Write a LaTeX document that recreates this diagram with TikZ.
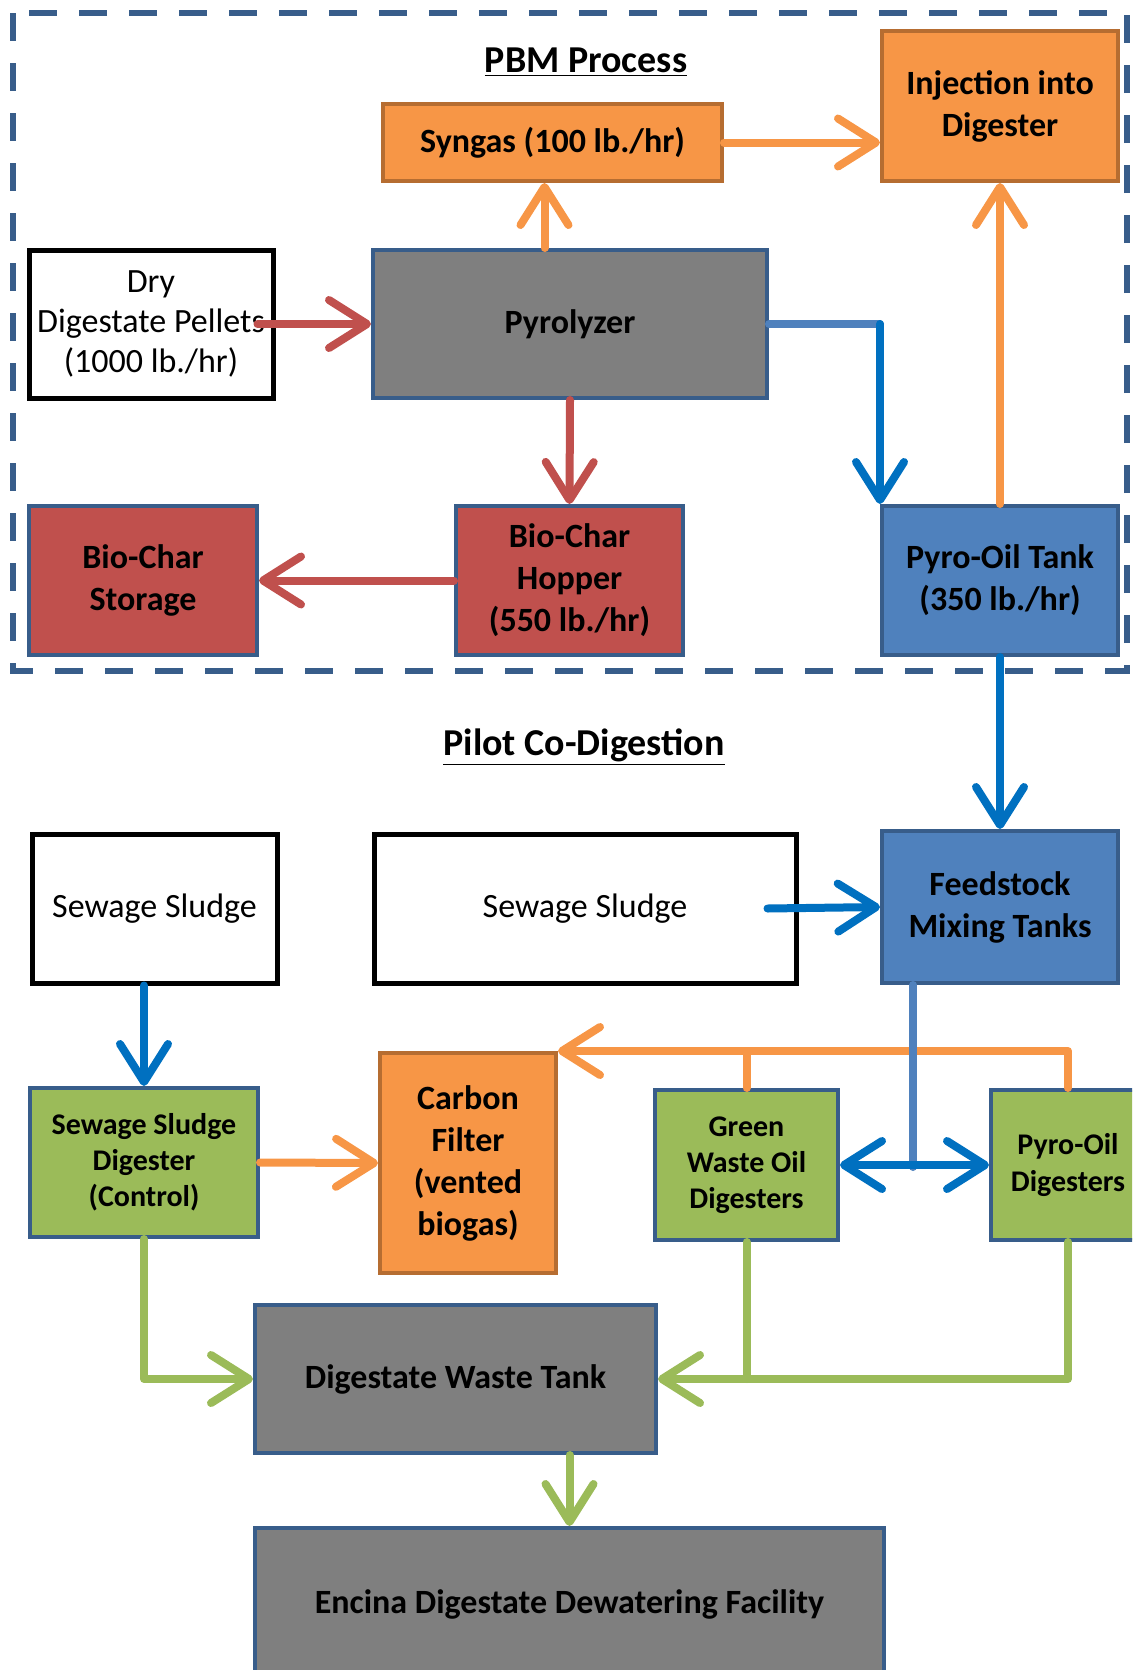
\documentclass[tikz,border=0pt]{standalone}
\usepackage{fontspec}
\setmainfont{Carlito}
\usetikzlibrary{arrows.meta}

\definecolor{pbmorange}{HTML}{F79646}
\definecolor{pbmorangedark}{HTML}{B66D31}
\definecolor{pbmred}{HTML}{C0504D}
\definecolor{pbmgray}{HTML}{7F7F7F}
\definecolor{pbmblue}{HTML}{4F81BD}
\definecolor{pbmbluedark}{HTML}{385D8A}
\definecolor{pbmgreen}{HTML}{9BBB59}
\definecolor{pipeblue}{HTML}{0070C0}

\newcommand{\heading}[1]{{\fontsize{19}{23}\selectfont\bfseries\underline{#1}}}

\begin{document}
\begin{tikzpicture}[x=0.5pt, y=-0.5pt, inner sep=0pt,
  >={Straight Barb[length=19pt, width=24pt, round]},
  wh/.style 2 args={minimum width=#1*0.5pt, minimum height=#2*0.5pt},
  pbmbox/.style={draw=pbmbluedark, line width=2pt, align=center,
    font=\fontsize{17}{21}\selectfont\bfseries},
  orangebox/.style={pbmbox, fill=pbmorange, draw=pbmorangedark},
  redbox/.style={pbmbox, fill=pbmred},
  graybox/.style={pbmbox, fill=pbmgray},
  bluebox/.style={pbmbox, fill=pbmblue},
  greenbox/.style={pbmbox, fill=pbmgreen, font=\fontsize{15}{18}\selectfont\bfseries},
  feedbox/.style={pbmbox, draw=black, line width=2.5pt, fill=white,
    font=\fontsize{17}{20}\selectfont},
  pipe/.style={line width=4pt, line cap=round, line join=round},
%  pipe/.style={line width=3pt},
  ]
  \useasboundingbox (0,0) rectangle (1132,1670);
  \clip (0,0) rectangle (1132,1670);

  % PBM process
  \draw[pbmbluedark, line width=3pt, dash pattern=on 14pt off 11pt] (13,13) rectangle (1127,671);
  \node (pbm) at (586,62) {\heading{PBM Process}};
  \node[orangebox, wh={339}{77}] (syngas) at (552.5,142.5) {Syngas (100 lb./hr)};
  \node[orangebox, wh={236}{150}] (inject) at (1000,106) {Injection into\\Digester};
  \node[feedbox, wh={244}{148}] (dry) at (151,324) {Dry\\Digestate Pellets\\(1000 lb./hr)};
  \node[graybox, wh={394}{148}] (pyro) at (570,324) {Pyrolyzer};
  \node[redbox, wh={228}{149}] (storage) at (143,580.5) {Bio-Char\\Storage};
  \node[redbox, wh={227}{149}] (hopper) at (569.5,580.5) {Bio-Char\\Hopper\\(550 lb./hr)};
  \node[bluebox, wh={236}{149}] (oiltank) at (1000,580.5) {Pyro-Oil Tank\\(350 lb./hr)};

  % pilot co-digestion
  \node (pilot) at (584,747) {\heading{Pilot Co-Digestion}};
  \node[feedbox, wh={245}{149}] (sludgeA) at (154.5,908.5) {Sewage Sludge};
  \node[feedbox, wh={422}{149}] (sludgeB) at (585,908.5) {Sewage Sludge};
  \node[bluebox, wh={236}{152}] (mixing) at (1000,907) {Feedstock\\Mixing Tanks};
  \node[greenbox, wh={228}{149}] (control) at (144,1162.5) {Sewage Sludge\\Digester\\(Control)};
  \node[orangebox, wh={176}{220}] (filter) at (468,1163) {Carbon\\Filter\\(vented\\biogas)};
  \node[greenbox, wh={183}{150}] (greenoil) at (746.5,1165) {Green\\Waste Oil\\Digesters};
  \node[greenbox, wh={154}{150}] (pyrodig) at (1068,1165) {Pyro-Oil\\Digesters};
  \node[graybox, wh={401}{148}] (waste) at (455.5,1379) {Digestate Waste Tank};
  \node[graybox, wh={629}{152}] (encina) at (569.5,1604) {Encina Digestate Dewatering Facility};

  \coordinate (elbow) at (oiltank.north west |- pyro.east);
  \coordinate (split) at (913,1167);

  % flows
  \draw[pipe, pbmred, ->] ([xshift=-9pt]dry.east) -- (pyro.west);
  \draw[pipe, pbmorange, ->] ([xshift=-4pt]syngas.south |- pyro.north) -- ([xshift=-4pt]syngas.south);
  \draw[pipe, pbmorange, ->] (syngas.east) -- (syngas.east -| inject.west);
  \draw[pipe, pbmblue] (pyro.east) -- (elbow);
  \draw[pipe, pipeblue, ->] (elbow) -- (oiltank.north west);
  \draw[pipe, pbmred, ->] (pyro.south) -- (hopper.north);
  \draw[pipe, pbmred, ->] (hopper.west) -- (storage.east);
  \draw[pipe, pbmorange, ->] (oiltank.north) -- (inject.south);
  \draw[pipe, pipeblue, ->] (oiltank.south) -- (mixing.north);
  \draw[pipe, pipeblue, ->] ([xshift=-15.5pt]sludgeB.east) -- (mixing.west);
  \draw[pipe, pipeblue, ->] (control.north |- sludgeA.south) -- (control.north);
  \draw[pipe, pbmorange, ->] (control.east) -- (filter.west);
  \draw[pipe, pbmorange, ->] (pyrodig.north) |- (filter.north east);
  \draw[pipe, pbmorange] (greenoil.north) -- (greenoil.north |- filter.north east);
  \draw[pipe, pbmblue] (mixing.south -| split) -- (split);
  \draw[pipe, pipeblue, <->] (greenoil.east) -- (pyrodig.west);
  \draw[pipe, pbmgreen, ->] (control.south) |- (waste.west);
  \draw[pipe, pbmgreen, ->] (pyrodig.south) |- (waste.east);
  \draw[pipe, pbmgreen] (greenoil.south) -- (greenoil.south |- waste.east);
  \draw[pipe, pbmgreen, ->] (waste.south -| encina.north) -- (encina.north);
\end{tikzpicture}
\end{document}
